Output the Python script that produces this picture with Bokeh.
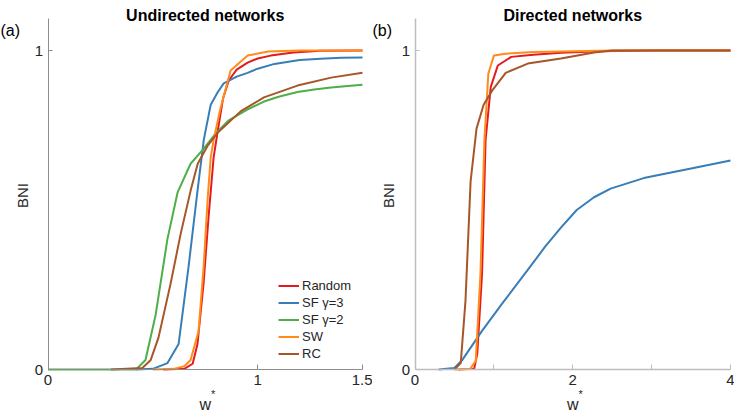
import math
from bokeh.plotting import figure
from bokeh.models import Range1d, FixedTicker, Label, Legend, LegendItem
from bokeh.layouts import row
from bokeh.embed import file_html
from bokeh.resources import INLINE

# ---------------- data ----------------
series_names = ["Random", "SF \u03b3=3", "SF \u03b3=2", "SW", "RC"]
series_colors = ["#e41a1c", "#377eb8", "#4daf4a", "#ff8c1a", "#a65628"]

# (a) Undirected networks
und_x_random = [0.55, 0.65, 0.69, 0.713, 0.742, 0.766, 0.79, 0.81, 0.835, 0.862, 0.9, 0.952, 1.0, 1.062, 1.17, 1.3, 1.5]
und_y_random = [0, 0.002, 0.018, 0.08, 0.27, 0.48, 0.665, 0.75, 0.85, 0.906, 0.94, 0.962, 0.975, 0.984, 0.994, 0.999, 1.0]
und_x_sf3 = [0.42, 0.5, 0.57, 0.623, 0.67, 0.713, 0.743, 0.776, 0.81, 0.838, 0.9, 0.952, 1.0, 1.08, 1.2, 1.3, 1.4, 1.5]
und_y_sf3 = [0, 0.002, 0.02, 0.08, 0.32, 0.56, 0.72, 0.83, 0.87, 0.897, 0.918, 0.93, 0.943, 0.958, 0.97, 0.974, 0.977, 0.978]
und_x_sf2 = [0, 0.42, 0.465, 0.513, 0.57, 0.618, 0.68, 0.74, 0.8, 0.86, 0.95, 1.03, 1.1, 1.19, 1.27, 1.35, 1.43, 1.5]
und_y_sf2 = [0, 0, 0.03, 0.17, 0.41, 0.555, 0.645, 0.69, 0.74, 0.78, 0.815, 0.84, 0.855, 0.87, 0.878, 0.884, 0.889, 0.893]
und_x_sw = [0.5, 0.6, 0.65, 0.68, 0.718, 0.742, 0.761, 0.776, 0.79, 0.823, 0.871, 0.952, 1.05, 1.2, 1.5]
und_y_sw = [0, 0.002, 0.01, 0.03, 0.12, 0.32, 0.53, 0.665, 0.72, 0.82, 0.937, 0.984, 0.997, 1.0, 1.0]
und_x_rc = [0.3, 0.45, 0.49, 0.527, 0.585, 0.633, 0.68, 0.714, 0.76, 0.81, 0.92, 1.03, 1.19, 1.35, 1.5]
und_y_rc = [0, 0.005, 0.03, 0.10, 0.27, 0.426, 0.56, 0.645, 0.70, 0.743, 0.81, 0.853, 0.89, 0.915, 0.93]

# (b) Directed networks
dir_x_random = [0.55, 0.75, 0.79, 0.85, 0.895, 0.96, 1.05, 1.22, 1.5, 1.85, 2.35, 3.0, 4.0]
dir_y_random = [0, 0.002, 0.05, 0.3, 0.72, 0.885, 0.953, 0.98, 0.987, 0.993, 0.998, 1, 1]
dir_x_sf3 = [0.3, 0.5, 0.6, 0.85, 1.1, 1.42, 1.65, 1.85, 2.05, 2.27, 2.48, 2.9, 3.5, 4.0]
dir_y_sf3 = [0, 0.005, 0.03, 0.121, 0.205, 0.309, 0.385, 0.445, 0.5, 0.54, 0.567, 0.6, 0.63, 0.655]
dir_x_sw = [0.5, 0.7, 0.77, 0.83, 0.88, 0.93, 1.0, 1.15, 1.5, 2.5, 4.0]
dir_y_sw = [0, 0.002, 0.027, 0.3, 0.72, 0.928, 0.984, 0.99, 0.995, 1, 1]
dir_x_rc = [0.5, 0.58, 0.64, 0.705, 0.78, 0.87, 0.98, 1.15, 1.43, 1.85, 2.27, 2.5, 3.0, 4.0]
dir_y_rc = [0, 0.02, 0.215, 0.59, 0.755, 0.83, 0.875, 0.93, 0.959, 0.975, 0.994, 1, 1, 1]

und_ticks = [0, 1, 1.5]
und_tick_labels = {0: "0", 1: "1", 1.5: "1.5"}
dir_ticks = [0, 1, 2, 3, 4]
dir_tick_labels = {0: "0", 1: "", 2: "2", 3: "", 4: "4"}
y_ticks = [0, 1]
y_max = 1.1

FONT = "Liberation Sans"
H = 414
AX_BOTTOM = 45      # px from canvas bottom to y = 0
PX_PER_Y = 319      # px per unit of BNI


def make_panel(width, xmax, x0_px, x1_px, ticks, labels, title, tag,
               axis_color, axis_w, bni_x, tag_x):
    ppx = (x1_px - x0_px) / xmax
    xr = Range1d(-x0_px / ppx, (width - x0_px) / ppx)
    yr = Range1d(-AX_BOTTOM / PX_PER_Y, (H - AX_BOTTOM) / PX_PER_Y)
    p = figure(width=width, height=H, x_range=xr, y_range=yr,
               output_backend="svg", toolbar_location=None,
               min_border_left=0, min_border_right=0, min_border_top=0, min_border_bottom=0)
    p.grid.visible = False
    p.outline_line_color = None
    p.background_fill_color = "white"
    p.border_fill_color = "white"
    p.xaxis.ticker = FixedTicker(ticks=ticks)
    p.xaxis.major_label_overrides = labels
    p.yaxis.ticker = FixedTicker(ticks=y_ticks)
    p.xaxis.fixed_location = 0
    p.yaxis.fixed_location = 0
    p.xaxis.bounds = (0, xmax)
    p.yaxis.bounds = (0, y_max)
    for ax in (p.xaxis[0], p.yaxis[0]):
        ax.axis_line_color = axis_color
        ax.axis_line_width = axis_w
        ax.major_tick_line_color = axis_color
        ax.minor_tick_line_color = None
        ax.major_tick_out = 0
        ax.major_label_text_font = FONT
        ax.major_label_text_font_size = "15px"
        ax.major_label_text_color = "#262626"
    p.xaxis.major_tick_in = 5
    p.yaxis.major_tick_in = 4
    p.xaxis.major_label_standoff = 5
    p.yaxis.major_label_standoff = 5

    cx = x0_px + (x1_px - x0_px) / 2
    p.add_layout(Label(x=cx, y=H - 15, x_units="screen", y_units="screen",
                       text=title, text_align="center", text_baseline="alphabetic",
                       text_font=FONT, text_font_style="bold", text_font_size="16px",
                       text_color="black"))
    p.add_layout(Label(x=tag_x, y=H - 29.5, x_units="screen", y_units="screen",
                       text=tag, text_align="left", text_baseline="middle",
                       text_font=FONT, text_font_size="16px", text_color="black"))
    p.add_layout(Label(x=bni_x, y=H - 195, x_units="screen", y_units="screen",
                       text="BNI", angle=math.pi / 2, text_align="center", text_baseline="middle",
                       text_font=FONT, text_font_size="15px", text_color="#262626"))
    p.add_layout(Label(x=cx, y=10, x_units="screen", y_units="screen",
                       text="w", text_align="center", text_baseline="alphabetic",
                       text_font=FONT, text_font_size="16px", text_color="#262626"))
    p.add_layout(Label(x=cx + 8, y=21, x_units="screen", y_units="screen",
                       text="*", text_align="center", text_baseline="alphabetic",
                       text_font=FONT, text_font_size="11px", text_color="#262626"))
    return p


p1 = make_panel(372, 1.5, 47.5, 362, und_ticks, und_tick_labels, "Undirected networks", "(a)",
                "#8c8c8c", 1, 21.5, 0)
p2 = make_panel(362, 4.0, 42.5, 358, dir_ticks, dir_tick_labels, "Directed networks", "(b)",
                "#bdbdbd", 1.5, 16, 0)

und_data = [(und_x_random, und_y_random), (und_x_sf3, und_y_sf3), (und_x_sf2, und_y_sf2),
            (und_x_sw, und_y_sw), (und_x_rc, und_y_rc)]
rends = []
for (xs, ys), c in zip(und_data, series_colors):
    rends.append(p1.line(xs, ys, line_color=c, line_width=2))

dir_data = [(dir_x_random, dir_y_random, 0), (dir_x_sf3, dir_y_sf3, 1),
            (dir_x_sw, dir_y_sw, 3), (dir_x_rc, dir_y_rc, 4)]
for xs, ys, k in dir_data:
    p2.line(xs, ys, line_color=series_colors[k], line_width=2)

legend = Legend(items=[LegendItem(label=n, renderers=[r]) for n, r in zip(series_names, rends)],
                location=(278, 52.5), glyph_width=21, glyph_height=17, label_height=17,
                label_standoff=3, spacing=0, padding=0, margin=0,
                border_line_color=None, background_fill_alpha=0,
                label_text_font=FONT, label_text_font_size="13px", label_text_color="#262626")
p1.add_layout(legend)

layout = row(p1, p2)
open("out.html", "w").write(file_html(layout, INLINE))
